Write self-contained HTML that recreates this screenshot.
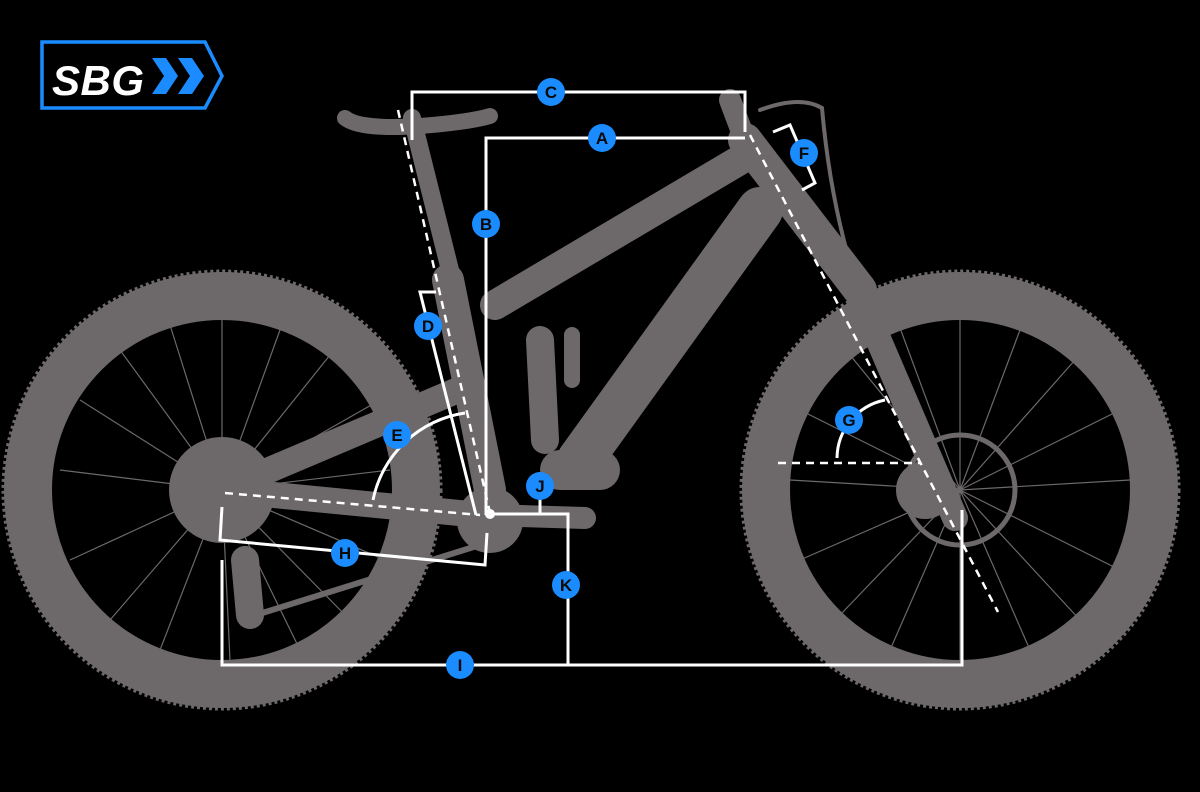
<!DOCTYPE html>
<html><head><style>html,body{margin:0;padding:0;background:#000;}svg{display:block}</style></head>
<body>
<svg width="1200" height="792" viewBox="0 0 1200 792" xmlns="http://www.w3.org/2000/svg">
<rect width="1200" height="792" fill="#000"/>
<g stroke="#6d696a" fill="none">
  <circle cx="222" cy="490" r="194" stroke-width="48"/>
  <circle cx="960" cy="490" r="194" stroke-width="48"/>
  <circle cx="222" cy="490" r="219" stroke-width="3" stroke-dasharray="3 3"/>
  <circle cx="960" cy="490" r="219" stroke-width="3" stroke-dasharray="3 3"/>
  <g stroke-width="1.2">
    <path d="M222 490 L222 320 M222 490 L280 330 M222 490 L330 355 M222 490 L380 400 M222 490 L390 470 M222 490 L385 560 M222 490 L350 620 M222 490 L300 650 M222 490 L230 660 M222 490 L160 650 M222 490 L110 620 M222 490 L70 560 M222 490 L60 470 M222 490 L80 400 M222 490 L120 350 M222 490 L170 325"/>
    <path d="M960 490 L960 320 M960 490 L1020 330 M960 490 L1075 360 M960 490 L1120 410 M960 490 L1130 480 M960 490 L1120 570 M960 490 L1080 620 M960 490 L1030 650 M960 490 L960 660 M960 490 L890 650 M960 490 L840 615 M960 490 L800 560 M960 490 L790 480 M960 490 L800 410 M960 490 L850 355 M960 490 L900 328"/>
  </g>
  <circle cx="960" cy="490" r="55" stroke-width="5"/>
  <g stroke-linecap="round">
    <line x1="745" y1="140" x2="860" y2="290" stroke-width="34"/>
    <line x1="855" y1="285" x2="955" y2="518" stroke-width="26"/>
    <line x1="740" y1="160" x2="495" y2="305" stroke-width="30"/>
    <line x1="760" y1="210" x2="580" y2="460" stroke-width="46"/>
    <line x1="412" y1="118" x2="455" y2="290" stroke-width="18"/>
    <line x1="448" y1="280" x2="490" y2="490" stroke-width="32"/>
    <line x1="222" y1="490" x2="480" y2="515" stroke-width="26"/>
    <line x1="222" y1="490" x2="470" y2="385" stroke-width="26"/>
    <line x1="540" y1="340" x2="545" y2="440" stroke-width="28"/>
    <line x1="572" y1="335" x2="572" y2="380" stroke-width="16"/>
    <line x1="490" y1="515" x2="585" y2="518" stroke-width="22"/>
    <line x1="730" y1="100" x2="745" y2="140" stroke-width="22"/>
    <path d="M760 110 Q800 95 822 108 Q830 200 855 280" stroke-width="4"/>
    <path d="M345 118 Q360 130 420 126 Q470 122 490 116" stroke-width="16"/>
    <line x1="600" y1="470" x2="560" y2="470" stroke-width="40"/>
    <line x1="245" y1="560" x2="250" y2="615" stroke-width="28"/>
  </g>
  <circle cx="222" cy="490" r="52" fill="#6d696a" stroke-width="2"/>
  <circle cx="490" cy="520" r="32" fill="#6d696a" stroke-width="2"/>
  <circle cx="925" cy="490" r="28" fill="#6d696a" stroke-width="2"/>
  <line x1="240" y1="620" x2="480" y2="545" stroke-width="6"/>
</g>
<g stroke="#fff" stroke-width="2.5" stroke-dasharray="8 6" fill="none">
  <line x1="398" y1="110" x2="490" y2="513"/>
  <line x1="750" y1="135" x2="998" y2="612"/>
  <line x1="225" y1="493" x2="480" y2="515"/>
  <line x1="778" y1="463" x2="920" y2="463"/>
</g>
<g stroke="#fff" stroke-width="3" fill="none">
  <polyline points="412,140 412,92 745,92 745,132"/>
  <polyline points="486,515 486,138 745,138"/>
  <polyline points="436,292 420,292 476,515"/>
  <path d="M373 500 A110 110 0 0 1 465 413"/>
  <polyline points="222,507 220,540 485,565 487,533"/>
  <polyline points="222,560 222,665 962,665 962,510"/>
  <polyline points="490,514 568,514 568,665"/>
  <line x1="540" y1="514" x2="540" y2="498"/>
  <path d="M837 458 A60 60 0 0 1 885 400"/>
  <polyline points="773,132 790,125 815,183 802,190"/>
</g>
<circle cx="490" cy="514" r="5" fill="#fff"/>
<g font-family="Liberation Sans, sans-serif" font-weight="bold" font-size="17" text-anchor="middle" fill="#0a0a0a">
  <g><circle cx="551" cy="92" r="14" fill="#1a8cff"/><text x="551" y="98">C</text></g>
  <g><circle cx="602" cy="138" r="14" fill="#1a8cff"/><text x="602" y="144">A</text></g>
  <g><circle cx="486" cy="224" r="14" fill="#1a8cff"/><text x="486" y="230">B</text></g>
  <g><circle cx="428" cy="326" r="14" fill="#1a8cff"/><text x="428" y="332">D</text></g>
  <g><circle cx="397" cy="435" r="14" fill="#1a8cff"/><text x="397" y="441">E</text></g>
  <g><circle cx="804" cy="153" r="14" fill="#1a8cff"/><text x="804" y="159">F</text></g>
  <g><circle cx="849" cy="420" r="14" fill="#1a8cff"/><text x="849" y="426">G</text></g>
  <g><circle cx="345" cy="553" r="14" fill="#1a8cff"/><text x="345" y="559">H</text></g>
  <g><circle cx="460" cy="665" r="14" fill="#1a8cff"/><text x="460" y="671">I</text></g>
  <g><circle cx="540" cy="486" r="14" fill="#1a8cff"/><text x="540" y="492">J</text></g>
  <g><circle cx="566" cy="585" r="14" fill="#1a8cff"/><text x="566" y="591">K</text></g>
</g>
<polygon points="42,42 205,42 222,76 205,108 42,108" fill="#000" stroke="#1a8cff" stroke-width="3.5"/>
<text x="52" y="95" font-family="Liberation Sans, sans-serif" font-weight="bold" font-style="italic" font-size="42" fill="#fff" textLength="92">SBG</text>
<polygon points="152,58 166,58 178,76 166,94 152,94 164,76" fill="#1a8cff"/>
<polygon points="178,58 192,58 204,76 192,94 178,94 190,76" fill="#1a8cff"/>
</svg>
</body></html>
